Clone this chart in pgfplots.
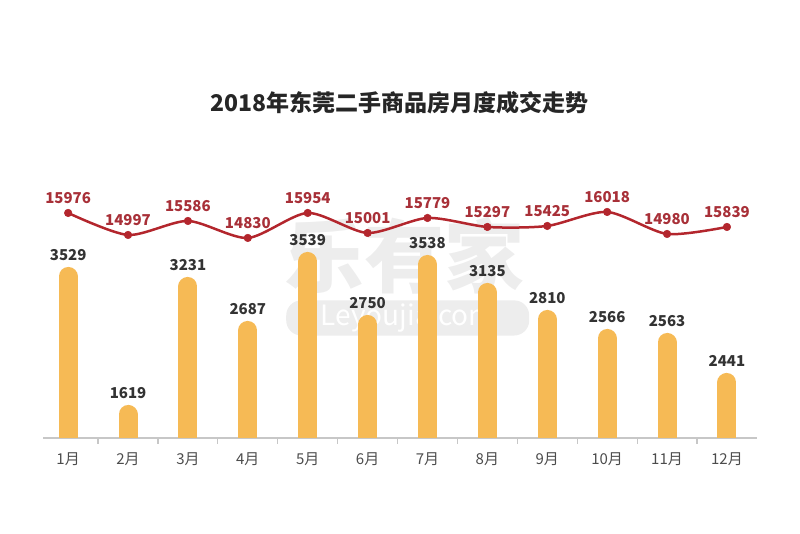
\documentclass[border=0pt]{standalone}
\usepackage{fontspec}
\setmainfont{Noto Sans CJK SC}
\usepackage{pgfplots}
\pgfplotsset{compat=1.18}

\definecolor{barc}{HTML}{F6BA55}
\definecolor{linec}{HTML}{B3262D}
\definecolor{linelab}{HTML}{A83038}
\definecolor{barlab}{HTML}{333333}

\begin{document}
\begin{tikzpicture}
  \begin{axis}[
      scale only axis,
      width=714pt, height=438pt,
      xmin=-0.42, xmax=11.5,
      ymin=0, ymax=438,
      hide y axis,
      axis x line*=bottom,
      x axis line style={draw=black!22, line width=1.5pt, -},
      xtick={0,...,11},
      xticklabels={1月,2月,3月,4月,5月,6月,7月,8月,9月,10月,11月,12月},
      major tick length=0pt,
      minor xtick={0.5,1.5,...,10.5},
      minor tick length=6pt,
      xtick align=outside,
      minor tick style={draw=black!22, line width=1.2pt},
      xticklabel style={font=\fontsize{15}{15}\selectfont, text=black!70, yshift=-11pt},
    ]

    % watermark
    \node[text=black!7, font=\bfseries\fontsize{80}{80}\selectfont] at (axis cs:5.62,182) {乐有家};
    \node[fill=black!7, rounded corners=15pt, minimum width=243pt, minimum height=31pt,
          text=white, font=\fontsize{28}{28}\selectfont] at (axis cs:5.67,120) {Leyoujia.com};

    % title
    \node[font=\bfseries\fontsize{23}{23}\selectfont, text=black!85] at (axis cs:5.54,335)
      {2018年东莞二手商品房月度成交走势};

    % monthly deals (bar heights as drawn)
    \addplot[ycomb, draw=barc, line width=19pt, line cap=round, mark=none,
      nodes near coords, point meta=explicit symbolic,
      every node near coord/.append style={font=\bfseries\fontsize{15}{15}\selectfont,
        text=barlab, anchor=center, yshift=21.5pt}]
      coordinates {
        (0,161.5) [3529]
        (1,23.5)  [1619]
        (2,151.5) [3231]
        (3,107.5) [2687]
        (4,176.5) [3539]
        (5,113.5) [2750]
        (6,173.5) [3538]
        (7,145.5) [3135]
        (8,118.5) [2810]
        (9,99.5)  [2566]
        (10,95.5) [2563]
        (11,55.5) [2441]
      };

    % average price line
    \addplot[draw=linec, line width=2.5pt, smooth, tension=0.45,
      mark=*, mark size=3.8pt, mark options={fill=linec, draw=linec, line width=0.5pt},
      nodes near coords, point meta=explicit symbolic,
      every node near coord/.append style={font=\bfseries\fontsize{15}{15}\selectfont,
        text=linelab, anchor=center, yshift=15pt}]
      coordinates {
        (0,225)  [15976]
        (1,203)  [14997]
        (2,217)  [15586]
        (3,200)  [14830]
        (4,225)  [15954]
        (5,205)  [15001]
        (6,220)  [15779]
        (7,211)  [15297]
        (8,212)  [15425]
        (9,226)  [16018]
        (10,204) [14980]
        (11,211) [15839]
      };

    \coordinate (BL) at (axis cs:-1.138,-96);
    \coordinate (TR) at (axis cs:12.22,438);
  \end{axis}
  \pgfresetboundingbox
  \path[use as bounding box] (BL) rectangle (TR);
\end{tikzpicture}
\end{document}
